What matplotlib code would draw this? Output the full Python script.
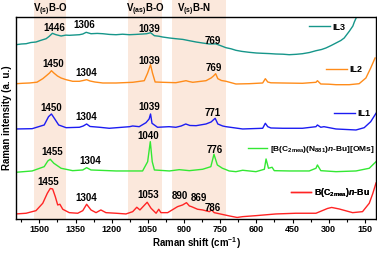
import numpy as np
import matplotlib.pyplot as plt

plt.rcParams['font.family'] = ['Liberation Sans', 'DejaVu Sans']
plt.rcParams['font.weight'] = 'bold'
plt.rcParams['mathtext.fontset'] = 'custom'
plt.rcParams['mathtext.rm'] = 'Liberation Sans:bold'
plt.rcParams['mathtext.it'] = 'Liberation Sans:italic:bold'
plt.rcParams['mathtext.bf'] = 'Liberation Sans:bold'

# Raman spectra (shift in cm-1, intensity offset a.u.)
il3_x = [1597, 1575, 1555, 1535, 1514, 1495, 1472, 1460, 1446, 1431, 1410, 1390, 1376, 1355, 1334,
         1320, 1306, 1286, 1260, 1237, 1210, 1182, 1155, 1127, 1100, 1072, 1055, 1039, 1023, 1005,
         989, 960, 934, 905, 878, 850, 823, 795, 769, 750, 726, 705, 685, 660, 630, 600, 574, 545,
         519, 490, 464, 435, 409, 380, 353, 330, 312, 290, 270, 250, 236, 215, 200, 194, 181, 160]
il3_y = [174.3, 175.0, 175.3, 176.5, 177.0, 178.6, 180.3, 182.5, 185.7, 184.3, 183.0, 183.9, 183.7, 184.0, 184.3,
         185.0, 186.7, 185.3, 185.6, 185.3, 184.6, 184.3, 184.8, 184.3, 184.6, 185.0, 185.3, 186.3, 183.3, 182.8,
         182.0, 181.0, 180.3, 179.6, 178.3, 177.0, 176.0, 175.0, 175.2, 173.5, 171.3, 170.2, 168.7, 167.6, 166.7, 166.0, 165.7, 165.4,
         165.0, 164.8, 164.3, 164.7, 165.3, 166.5, 168.3, 169.5, 171.0, 173.5, 176.0, 178.5, 181.0, 187.7, 193.0, 197.0, 204.0, 215.0]

il2_x = [1597, 1570, 1541, 1510, 1486, 1470, 1458, 1450, 1440, 1425, 1410, 1389, 1362, 1334, 1318,
         1304, 1290, 1270, 1237, 1182, 1113, 1065, 1051, 1039, 1031, 1020, 989, 934, 892, 880, 864,
         809, 788, 778, 769, 760, 745, 726, 685, 630, 574, 563, 553, 540, 492, 409, 353, 347, 333,
         300, 270, 215, 174, 146, 126, 108]
il2_y = [135.3, 135.7, 136.0, 136.8, 140.3, 143.5, 146.0, 148.3, 146.0, 143.0, 141.0, 139.3, 137.7, 137.7, 138.5,
         139.3, 138.0, 137.0, 136.0, 136.0, 136.7, 138.3, 146.0, 154.3, 146.0, 137.0, 136.7, 136.3, 138.3, 137.5, 136.7,
         138.3, 141.0, 143.0, 145.3, 140.3, 138.5, 137.7, 135.0, 135.3, 136.0, 140.3, 137.0, 136.2, 136.0, 135.7, 136.7, 138.3, 135.0,
         134.8, 134.3, 134.3, 135.3, 141.0, 151.0, 161.0]

il1_x = [1597, 1530, 1480, 1462, 1450, 1438, 1420, 1389, 1334, 1318, 1304, 1290, 1250, 1210, 1126, 1113,
         1086, 1058, 1045, 1039, 1033, 1010, 962, 934, 912, 893, 876, 850, 809, 788, 771, 760, 740, 726,
         657, 574, 563, 553, 540, 491, 409, 353, 347, 333, 320, 270, 187, 153, 126, 104]
il1_y = [90.0, 90.3, 94.0, 102.3, 105.0, 100.7, 94.0, 91.3, 91.7, 93.0, 95.0, 92.5, 91.7, 90.7, 92.3, 93.0,
         92.3, 96.3, 100.0, 105.0, 95.7, 91.7, 92.3, 91.7, 93.0, 95.0, 93.5, 93.3, 95.0, 97.0, 100.7, 95.0, 93.0, 92.3,
         90.0, 90.7, 95.7, 92.3, 91.0, 90.7, 90.7, 92.3, 94.0, 91.7, 92.3, 90.0, 89.0, 91.3, 97.3, 105.7]

gr_x = [1597, 1530, 1480, 1465, 1455, 1440, 1410, 1362, 1320, 1304, 1286, 1182, 1072, 1051, 1040, 1032,
        1023, 961, 920, 878, 823, 789, 776, 762, 741, 730, 713, 685, 657, 602, 567, 560, 550, 535, 526,
        464, 381, 353, 347, 333, 270, 187, 132, 104]
gr_y = [46.7, 48.0, 52.3, 58.0, 59.7, 55.7, 50.7, 48.3, 49.0, 51.3, 49.0, 48.0, 48.0, 57.3, 77.3, 57.3,
        49.0, 48.0, 49.3, 48.3, 49.7, 52.3, 64.7, 54.0, 50.7, 49.7, 48.0, 47.3, 48.7, 47.3, 49.7, 60.0, 50.7, 51.7, 48.3,
        48.0, 48.0, 50.7, 54.0, 48.3, 47.3, 48.0, 50.7, 57.3]

rd_x = [1597, 1555, 1514, 1486, 1467, 1455, 1445, 1434, 1424, 1415, 1403, 1376, 1341, 1320, 1304, 1286,
        1265, 1245, 1224, 1182, 1141, 1113, 1096, 1083, 1053, 1037, 1016, 1005, 996, 968, 927, 906, 890,
        878, 869, 844, 823, 795, 786, 775, 712, 680, 657, 602, 519, 436, 353, 305, 288, 257, 201, 160,
        132, 118, 104]
rd_y = [5.0, 5.7, 8.3, 15.7, 25.7, 30.5, 30.0, 22.3, 14.0, 14.7, 9.7, 6.3, 5.7, 8.3, 14.7, 9.0,
        6.3, 9.0, 6.3, 5.7, 5.0, 7.3, 11.7, 9.0, 16.7, 10.7, 5.7, 9.7, 6.3, 6.3, 12.3, 14.0, 16.3,
        13.0, 12.3, 9.7, 9.0, 7.3, 9.0, 6.3, 3.0, 1.5, 2.3, 3.3, 5.0, 5.7, 5.7, 10.5, 11.5, 10.0, 6.3, 7.3,
        15.7, 25.0, 36.0]

series = [
    (il3_x, il3_y, '#16968a', 'IL3', (0.814, 0.95), 6.5),
    (il2_x, il2_y, '#ff8c1a', 'IL2', (0.861, 0.738), 6.5),
    (il1_x, il1_y, '#1c1cf2', 'IL1', (0.883, 0.52), 6.5),
    (gr_x, gr_y, '#33e833', r'[B(C$_{\mathrm{2mea}}$)(N$_{\mathrm{881}}$)$\mathit{n}$-Bu][OMs]', (0.645, 0.342), 6),
    (rd_x, rd_y, '#ff2424', r'B(C$_{\mathrm{2mea}}$)$\mathit{n}$-Bu', (0.764, 0.129), 6.3),
]

# peak labels: (text, shift, height)
peak_text = ['1446', '1306', '1039', '769',
             '1450', '1304', '1039', '769',
             '1450', '1304', '1039', '771',
             '1455', '1304', '1040', '776',
             '1455', '1304', '1053', '890', '869', '786']
peak_x = [1438, 1313, 1044, 781,
          1444, 1306, 1044, 775,
          1451, 1306, 1044, 781,
          1447, 1290, 1048, 771,
          1465, 1304, 1047, 917, 839, 779]
peak_y = [191, 194, 190, 178,
          155, 146, 158, 151,
          111, 102, 112, 106,
          67, 58, 83, 69,
          37, 21, 24, 23, 21, 11]

bands = [(1522, 1389), (1134, 990), (949, 726)]
band_labels = [r'V$_{\mathrm{(s)}}$B-O', r'V$_{\mathrm{(as)}}$B-O', r'V$_{\mathrm{(s)}}$B-N']
band_label_x = [1455, 1062, 858]

fig = plt.figure(figsize=(3.77, 2.54), dpi=100)
ax = fig.add_axes([0.0424, 0.138, 0.955, 0.795])

for (lo, hi), lab, lx in zip(bands, band_labels, band_label_x):
    ax.axvspan(hi, lo, ymin=0, ymax=1.085, color='#fbe8dc', lw=0, clip_on=False, zorder=0)
    ax.text(lx, 209, lab, ha='center', va='center', fontsize=7, fontweight='bold')

for x, y, c, lab, pos, fs in series:
    line, = ax.plot(x, y, color=c, lw=1.0, zorder=2)
    leg = ax.legend([line], [lab], loc='center left', bbox_to_anchor=pos, frameon=False,
                    fontsize=fs, handlelength=2.3, handletextpad=0.3, borderpad=0, borderaxespad=0)
    ax.add_artist(leg)

for t, x, y in zip(peak_text, peak_x, peak_y):
    ax.text(x, y, t, ha='center', va='center', fontsize=7, fontweight='bold')

ax.set_xlim(1597, 104)
ax.set_ylim(0, 202)
ax.set_xticks([1500, 1350, 1200, 1050, 900, 750, 600, 450, 300, 150])
ax.set_xticks(np.arange(1575, 100, -150), minor=True)
ax.set_yticks([])
ax.tick_params(axis='x', labelsize=6.5, length=3, width=0.8, pad=1.5)
ax.tick_params(axis='x', which='minor', length=2, width=0.8)
for s in ax.spines.values():
    s.set_linewidth(1.0)
ax.set_xlabel(r'Raman shift (cm$^{-1}$)', fontsize=7, fontweight='bold', labelpad=1)
ax.set_ylabel('Raman intensity (a. u.)', fontsize=7, fontweight='bold', labelpad=3)

fig.savefig('out.png', dpi=100)
